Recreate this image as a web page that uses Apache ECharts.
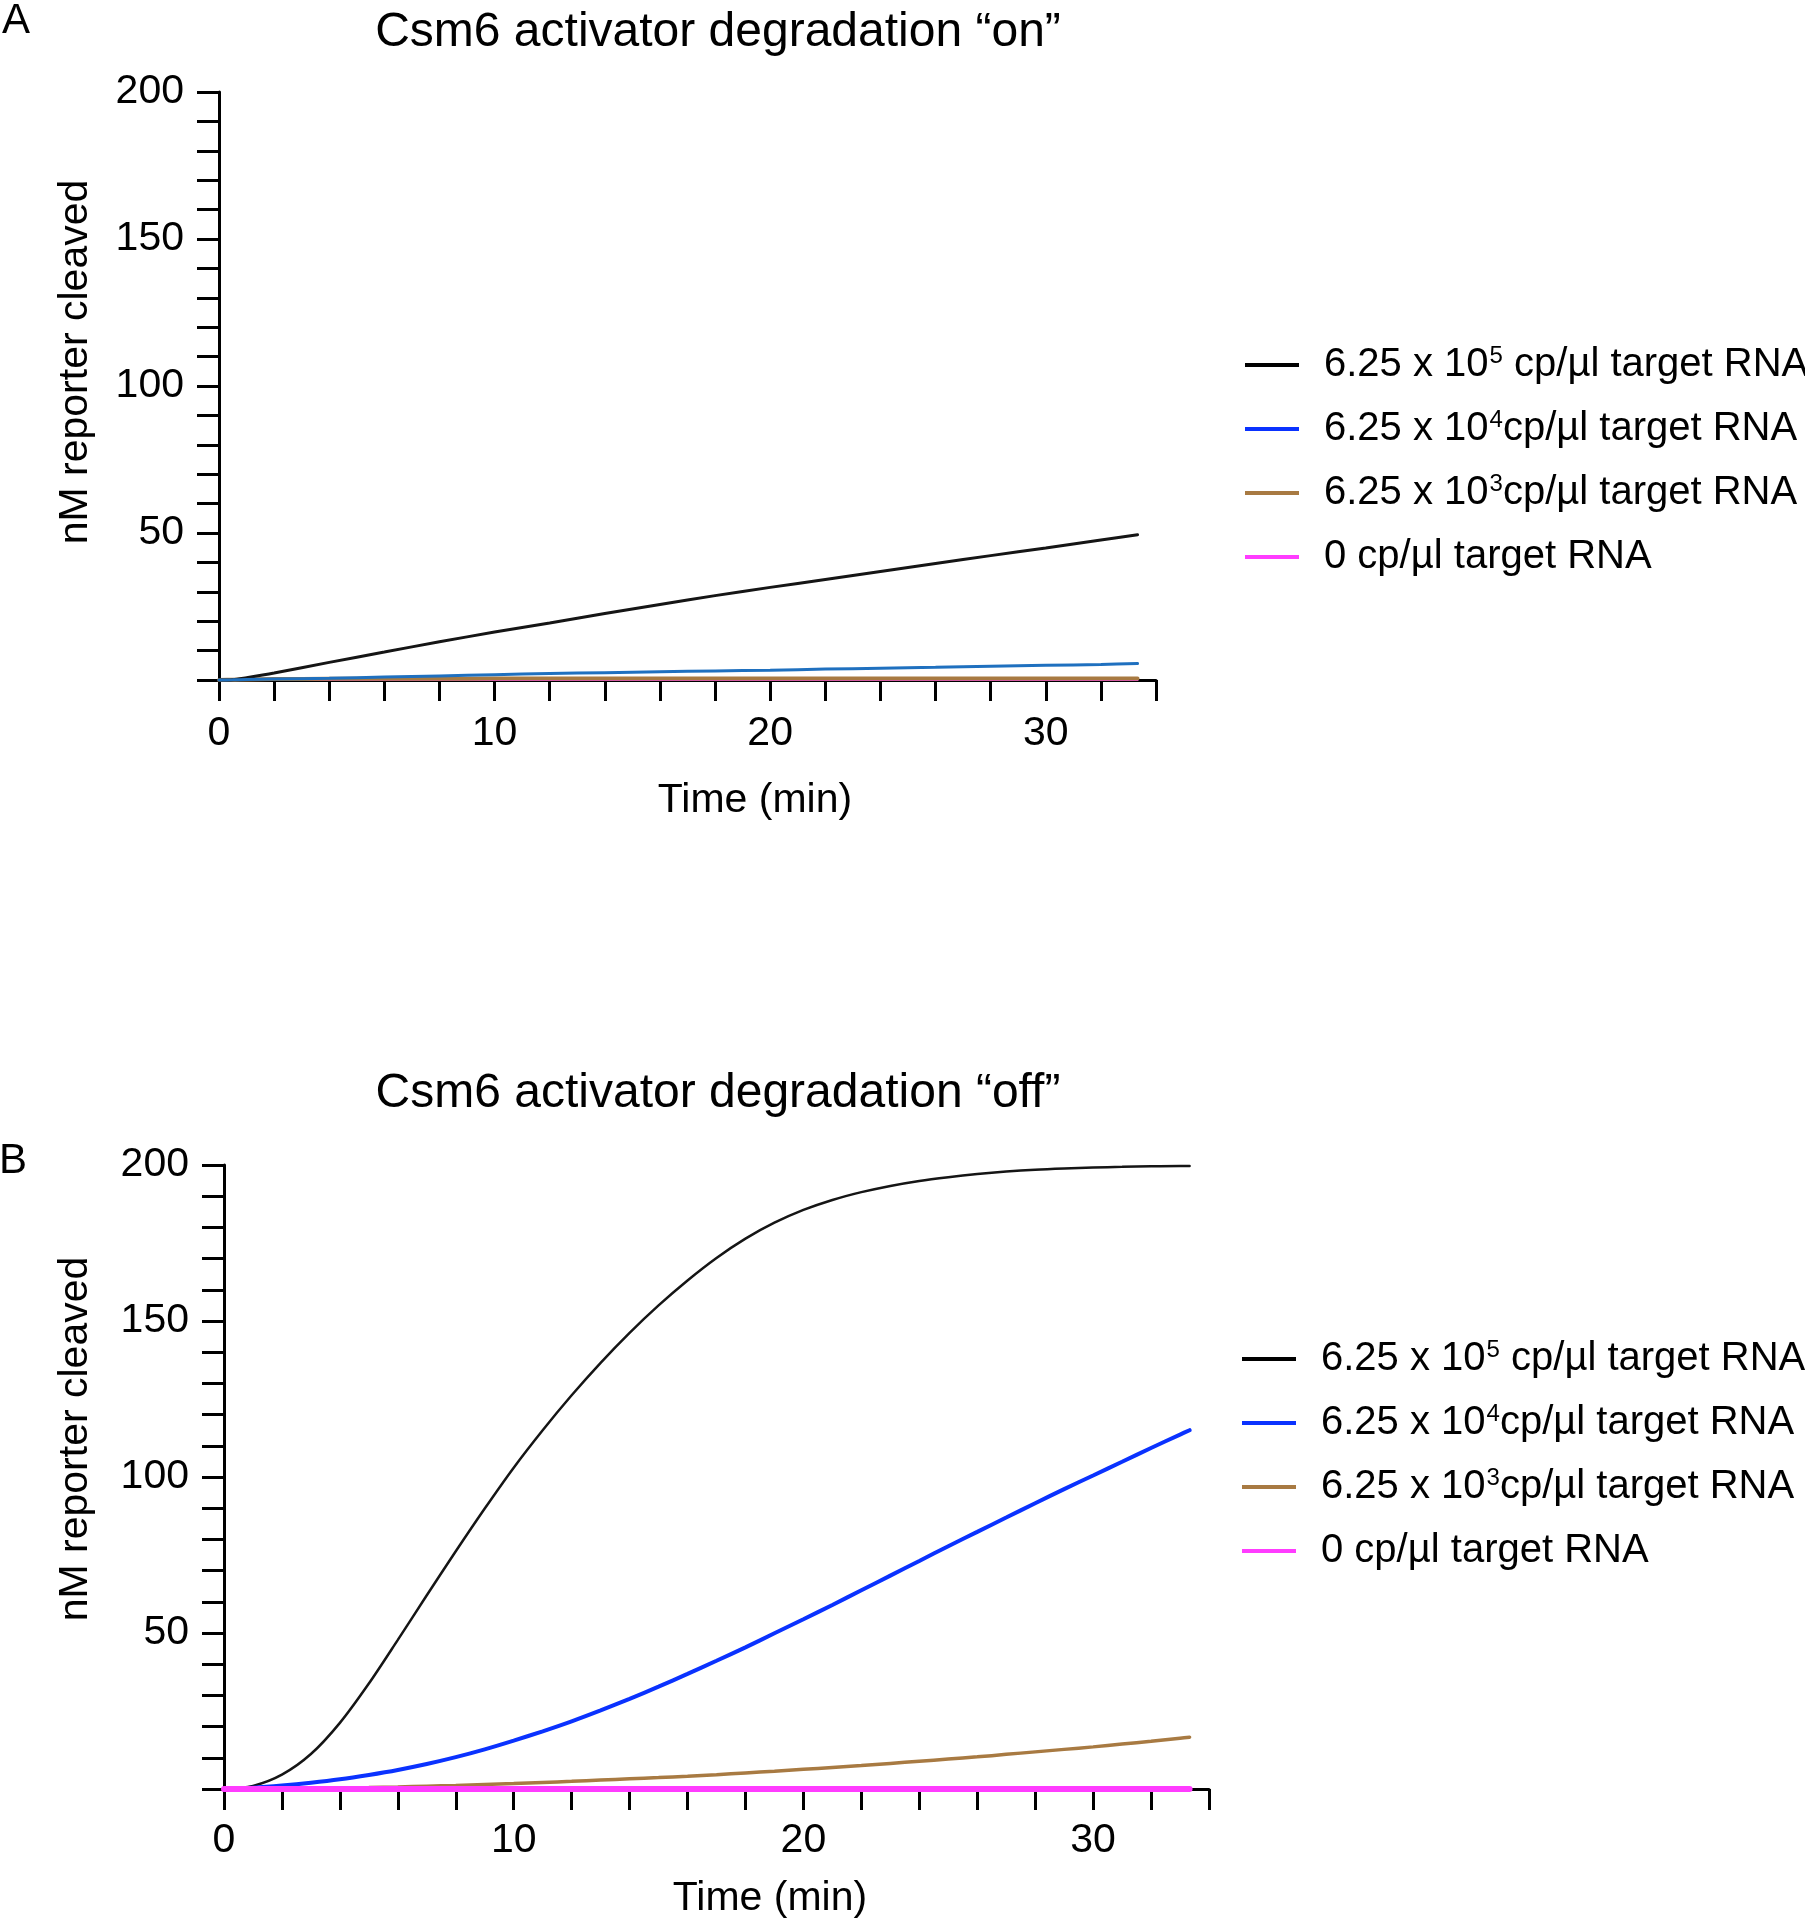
<!DOCTYPE html>
<html>
<head>
<meta charset="utf-8">
<title>Csm6 activator degradation</title>
<script src="https://cdn.jsdelivr.net/npm/echarts@6.0.0/dist/echarts.min.js"></script>
<style>
    html, body { margin: 0; padding: 0; background: #fff; }
    #chart { width: 1805px; height: 1920px; }
</style>
</head>
<body>
<div id="chart"></div>
<script>
// 时间轴（分钟）
const timeA = [0, 0.5, 1, 2, 4, 6, 8, 10, 12, 14, 16, 18, 20, 22, 24, 26, 28, 30, 32, 33.33];
const timeB = [0, 1, 2, 3, 4, 5, 6, 7, 8, 9, 10, 11, 12, 13, 14, 15, 16, 17, 18, 19, 20,
    21, 22, 23, 24, 25, 26, 27, 28, 29, 30, 31, 32, 33, 33.33];

// A: degradation "on"
const onHigh = [0, 0.1, 0.8, 2.4, 6.0, 9.5, 13.0, 16.3, 19.4, 22.6, 25.7, 28.7, 31.5, 34.2, 36.9, 39.6, 42.3, 44.9, 47.6, 49.4];
const onMid  = [0, 0.05, 0.15, 0.3, 0.6, 1.0, 1.4, 1.8, 2.2, 2.5, 2.8, 3.1, 3.3, 3.7, 4.0, 4.3, 4.7, 5.0, 5.3, 5.6];
const onLow  = [0, 0.1, 0.2, 0.3, 0.4, 0.4, 0.4, 0.5, 0.5, 0.5, 0.5, 0.5, 0.5, 0.5, 0.5, 0.5, 0.5, 0.5, 0.5, 0.5];
const onZero = [0, 0, 0, 0, 0, 0, 0, 0, 0, 0, 0, 0, 0, 0, 0, 0, 0, 0, 0, 0];

// B: degradation "off"
const offHigh = [0, 1.0, 4.6, 11.2, 21.2, 33.8, 47.8, 62.1, 76.2, 89.9, 103.0, 115.0, 126.2, 136.6, 146.2, 155.0,
    163.0, 170.2, 176.4, 181.5, 185.6, 188.8, 191.3, 193.3, 194.9, 196.1, 197.1, 197.9, 198.5, 198.9, 199.2,
    199.4, 199.6, 199.7, 199.7];
const offMid = [0, 0.4, 1.1, 2.0, 3.1, 4.5, 6.1, 8.0, 10.2, 12.7, 15.5, 18.5, 21.7, 25.2, 28.9, 32.8,
    36.9, 41.1, 45.4, 49.9, 54.4, 59.0, 63.7, 68.4, 73.1, 77.8, 82.4, 87.0, 91.6, 96.1, 100.5,
    104.9, 109.3, 113.6, 115.0];
const offLow = [0, 0.05, 0.1, 0.2, 0.3, 0.45, 0.65, 0.9, 1.15, 1.45, 1.75, 2.1, 2.45, 2.85, 3.25, 3.65,
    4.1, 4.6, 5.15, 5.7, 6.3, 6.9, 7.5, 8.2, 8.9, 9.6, 10.3, 11.1, 11.9, 12.7, 13.5,
    14.4, 15.3, 16.3, 16.6];
const offZero = [0, 0, 0, 0, 0, 0, 0, 0, 0, 0, 0, 0, 0, 0, 0, 0, 0, 0, 0, 0, 0, 0, 0, 0, 0, 0, 0, 0, 0, 0, 0, 0, 0, 0, 0];

// 图例
const seriesNames = ['e5', 'e4', 'e3', 'zero'];
const legendLabels = {
    e5: '6.25 x 10{sup|5} cp/\u00b5l target RNA',
    e4: '6.25 x 10{sup|4}cp/\u00b5l target RNA',
    e3: '6.25 x 10{sup|3}cp/\u00b5l target RNA',
    zero: '0 cp/\u00b5l target RNA'
};
const legendColors = ['#000000', '#0a32ff', '#a87a42', '#ff3cff'];

const FONT = '"Liberation Sans", Arial, Helvetica, sans-serif';
const chart = echarts.init(document.getElementById('chart'));

function xAxis(gridIndex, nameGap, namePadLeft, labelMargin) {
    return {
        type: 'value', gridIndex, min: 0, max: 34, interval: 2,
        name: 'Time (min)', nameLocation: 'middle', nameGap,
        nameTextStyle: { fontFamily: FONT, fontSize: 41, color: '#000', padding: [0, 0, 0, namePadLeft] },
        axisLine: { lineStyle: { color: '#000', width: 3 } },
        axisTick: { length: 21, lineStyle: { color: '#000', width: 3 } },
        axisLabel: {
            margin: labelMargin, fontFamily: FONT, fontSize: 41, color: '#000',
            formatter: v => (v % 10 === 0 ? String(v) : '')
        },
        splitLine: { show: false }
    };
}

function yAxis(gridIndex, nameGap, namePad) {
    return {
        type: 'value', gridIndex, min: 0, max: 200, interval: 10,
        name: 'nM reporter cleaved', nameLocation: 'middle', nameGap, nameRotate: 90,
        nameTextStyle: { fontFamily: FONT, fontSize: 41, color: '#000', padding: [0, 0, 0, namePad] },
        axisLine: { lineStyle: { color: '#000', width: 3 } },
        axisTick: { length: 22, lineStyle: { color: '#000', width: 3 } },
        axisLabel: {
            margin: 35, fontFamily: FONT, fontSize: 41, color: '#000',
            formatter: v => (v % 50 === 0 && v > 0 ? String(v) : '')
        },
        splitLine: { show: false }
    };
}

function line(name, idx, times, values, color, width, z) {
    return {
        type: 'line', name, xAxisIndex: idx, yAxisIndex: idx,
        data: times.map((t, i) => [t, values[i]]),
        symbol: 'none', smooth: 0.3, clip: false, silent: true, z,
        lineStyle: { color, width, cap: 'round' },
        itemStyle: { color }
    };
}

function legend(left, top) {
    return {
        orient: 'vertical', left, top, itemWidth: 54, itemHeight: 4, itemGap: 16,
        icon: 'rect', selectedMode: false,
        data: seriesNames.map((n, i) => ({ name: n, itemStyle: { color: legendColors[i] } })),
        formatter: n => legendLabels[n],
        textStyle: {
            fontFamily: FONT, fontSize: 40, color: '#000', lineHeight: 48, padding: [0, 0, 0, 20],
            rich: { sup: { fontFamily: FONT, fontSize: 24, lineHeight: 24, padding: [3, 0, 0, 1], verticalAlign: 'top', color: '#000' } }
        }
    };
}

function label(text, x, y, size) {
    return {
        type: 'text', x, y,
        style: { text, fontFamily: FONT, fontSize: size, fill: '#000', align: 'center', verticalAlign: 'middle' }
    };
}

const option = {
    animation: false,
    backgroundColor: '#fff',
    grid: [
        { left: 219, top: 92, width: 937, height: 588 },
        { left: 224, top: 1165, width: 985, height: 625 }
    ],
    xAxis: [xAxis(0, 100, 135, 33), xAxis(1, 89, 107, 31)],
    yAxis: [yAxis(0, 123, 48), yAxis(1, 128, 76)],
    legend: [legend(1240, 336), legend(1237, 1330)],
    graphic: [
        label('A', 16, 21, 42),
        label('B', 13, 1161, 42),
        label('Csm6 activator degradation \u201con\u201d', 718, 33, 48),
        label('Csm6 activator degradation \u201coff\u201d', 718, 1094, 48)
    ],
    series: [
        // A：粉色在最底层
        line('zero', 0, timeA, onZero, '#ff3cff', 2, 2),
        line('e3', 0, timeA, onLow, '#a87a42', 4, 3),
        line('e5', 0, timeA, onHigh, '#151515', 3, 4),
        line('e4', 0, timeA, onMid, '#1f70bf', 3, 5),
        // B：粉色在最上层
        line('e5', 1, timeB, offHigh, '#151515', 2.5, 2),
        line('e4', 1, timeB, offMid, '#0a32ff', 4, 3),
        line('e3', 1, timeB, offLow, '#a87a42', 3.5, 4),
        line('zero', 1, timeB, offZero, '#ff3cff', 6, 5)
    ]
};

chart.setOption(option);
</script>
</body>
</html>
